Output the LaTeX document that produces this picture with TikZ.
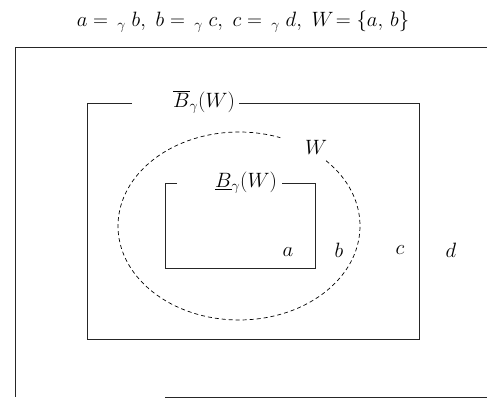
\documentclass[tikz,border=0pt]{standalone}
\begin{document}
\begin{tikzpicture}[x=1pt,y=-1pt,
  frame/.style={line width=0.7pt,black!85},
  lbl/.style={inner sep=1pt,font=\huge},
  wset/.style={line width=0.7pt,dash pattern=on 4pt off 3pt}]
\useasboundingbox (0,0) rectangle (487,398);
% title
\node[lbl] (title) at (243,22) {$a \mathrel{=\,{}_{\gamma}} b,\ b \mathrel{=\,{}_{\gamma}} c,\ c \mathrel{=\,{}_{\gamma}} d,\ W\!= \{a,\, b\}$};
% outer frame (partially visible)
\coordinate (o1) at (487,47);
\coordinate (o2) at (15,47);
\coordinate (o3) at (15,397);
\coordinate (o4) at (165,397);
\coordinate (o5) at (487,397);
\draw[frame] (o1) -- (o2) -- (o3);
\draw[frame] (o4) -- (o5);
% upper approximation
\node[lbl] (up) at (204,102) {$\overline{B}_{\gamma}(W)$};
\coordinate (m1) at (132,103);
\coordinate (m2) at (87,103);
\coordinate (m3) at (87,339);
\coordinate (m4) at (419,339);
\coordinate (m5) at (419,103);
\coordinate (m6) at (239,103);
\draw[frame] (m1) -- (m2) -- (m3) -- (m4) -- (m5) -- (m6);
% lower approximation
\node[lbl] (low) at (246,183) {$\underline{B}_{\gamma}(W)$};
\coordinate (i1) at (177,183);
\coordinate (i2) at (165,183);
\coordinate (i3) at (165,268);
\coordinate (i4) at (315,268);
\coordinate (i5) at (315,183);
\coordinate (i6) at (282,183);
\draw[frame] (i1) -- (i2) -- (i3) -- (i4) -- (i5) -- (i6);
% W ellipse with gap for label
\coordinate (ec) at (239,226);
\draw[wset] ([shift={(-44:121 and 94)}]ec) arc[start angle=-44,end angle=290,x radius=121,y radius=94];
\node[lbl] (W) at (316,147) {$W$};
% elements
\node[lbl] (a) at (288,252) {$a$};
\node[lbl] (b) at (339,250) {$b$};
\node[lbl] (c) at (400,250) {$c$};
\node[lbl] (d) at (451,250) {$d$};
\end{tikzpicture}
\end{document}
